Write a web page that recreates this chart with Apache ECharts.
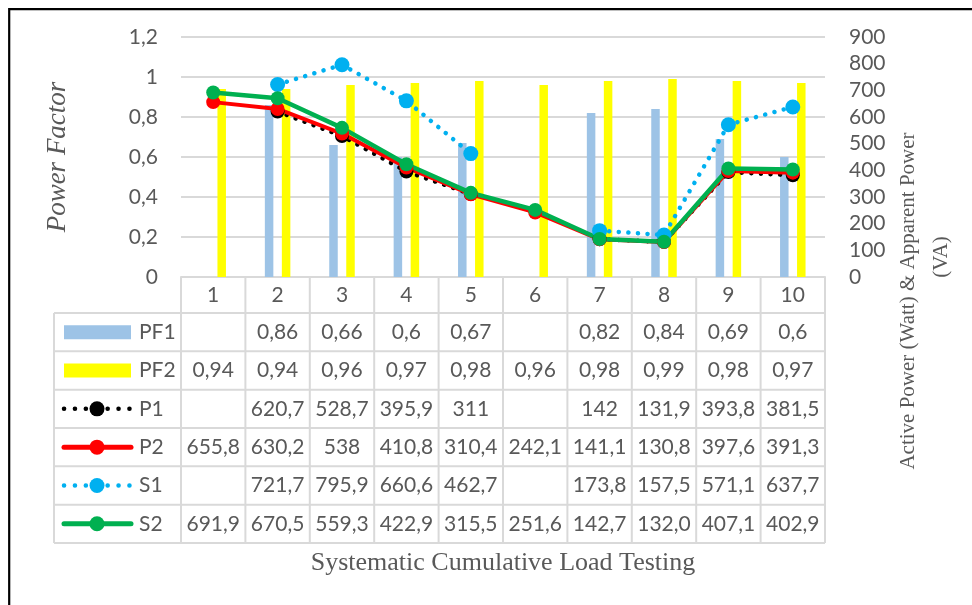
<!DOCTYPE html>
<html>
<head>
<meta charset="utf-8">
<script src="https://cdn.jsdelivr.net/npm/echarts@6/dist/echarts.min.js"></script>
<style>
  html, body { margin: 0; padding: 0; background: #ffffff; }
  #chart { width: 972px; height: 605px; }
</style>
</head>
<body>
<div id="chart"></div>
<script>
// Test steps on the horizontal axis
const categories = ['1', '2', '3', '4', '5', '6', '7', '8', '9', '10'];

// Power factor (left axis)
const pf1 = [null, 0.86, 0.66, 0.6, 0.67, null, 0.82, 0.84, 0.69, 0.6];
const pf2 = [0.94, 0.94, 0.96, 0.97, 0.98, 0.96, 0.98, 0.99, 0.98, 0.97];

// Active power (W) and apparent power (VA) (right axis)
const p1 = [null, 620.7, 528.7, 395.9, 311, null, 142, 131.9, 393.8, 381.5];
const p2 = [655.8, 630.2, 538, 410.8, 310.4, 242.1, 141.1, 130.8, 397.6, 391.3];
const s1 = [null, 721.7, 795.9, 660.6, 462.7, null, 173.8, 157.5, 571.1, 637.7];
const s2 = [691.9, 670.5, 559.3, 422.9, 315.5, 251.6, 142.7, 132.0, 407.1, 402.9];

// Tick labels
const leftTicks = ['0', '0,2', '0,4', '0,6', '0,8', '1', '1,2'];
const rightTicks = ['0', '100', '200', '300', '400', '500', '600', '700', '800', '900'];

const GRAY_TEXT = '#595959';
const GRID_LINE = '#D9D9D9';
const SANS = 'Lato';
const SERIF = '"Liberation Serif", "Times New Roman", serif';
const LABEL_SIZE = 21;

const chart = echarts.init(document.getElementById('chart'), null, { renderer: 'canvas' });

const dots = (w, period) => ({ width: w, type: [0.1, period], cap: 'round' });

const option = {
  animation: false,
  backgroundColor: '#ffffff',
  grid: { left: 181, right: 147, top: 37, bottom: 328, containLabel: false },
  xAxis: {
    type: 'category',
    data: categories,
    axisLine: { show: true, lineStyle: { color: GRID_LINE, width: 2 } },
    axisTick: { show: false },
    axisLabel: { color: GRAY_TEXT, fontFamily: SANS, fontSize: LABEL_SIZE, margin: 18, verticalAlign: 'middle' },
    splitLine: { show: false }
  },
  yAxis: [
    {
      type: 'value', min: 0, max: 1.2, interval: 0.2,
      axisLine: { show: false }, axisTick: { show: false },
      axisLabel: {
        color: GRAY_TEXT, fontFamily: SANS, fontSize: LABEL_SIZE, margin: 23,
        formatter: v => leftTicks[Math.round(v / 0.2)]
      },
      splitLine: { show: true, lineStyle: { color: GRID_LINE, width: 2 } }
    },
    {
      type: 'value', min: 0, max: 900, interval: 100,
      axisLine: { show: false }, axisTick: { show: false },
      axisLabel: {
        color: GRAY_TEXT, fontFamily: SANS, fontSize: LABEL_SIZE, margin: 24,
        formatter: v => rightTicks[Math.round(v / 100)]
      },
      splitLine: { show: false }
    }
  ],
  series: [
    { name: 'PF1', type: 'bar', yAxisIndex: 0, data: pf1, barWidth: 8.5, barGap: '100%', itemStyle: { color: '#9DC3E6' } },
    { name: 'PF2', type: 'bar', yAxisIndex: 0, data: pf2, barWidth: 8.5, barGap: '100%', itemStyle: { color: '#FFFF00' } },
    {
      name: 'P1', type: 'line', yAxisIndex: 1, data: p1, connectNulls: false,
      symbol: 'circle', symbolSize: 14, itemStyle: { color: '#000000' },
      lineStyle: Object.assign({ color: '#000000' }, dots(4.5, 9.5))
    },
    {
      name: 'P2', type: 'line', yAxisIndex: 1, data: p2,
      symbol: 'circle', symbolSize: 14, itemStyle: { color: '#FF0000' },
      lineStyle: { color: '#FF0000', width: 4 }
    },
    {
      name: 'S1', type: 'line', yAxisIndex: 1, data: s1, connectNulls: false,
      symbol: 'circle', symbolSize: 15, itemStyle: { color: '#00B0F0' },
      lineStyle: Object.assign({ color: '#00B0F0' }, dots(4.5, 9.5))
    },
    {
      name: 'S2', type: 'line', yAxisIndex: 1, data: s2,
      symbol: 'circle', symbolSize: 14, itemStyle: { color: '#00B050' },
      lineStyle: { color: '#00B050', width: 4.5 }
    }
  ]
};

chart.setOption(option);

// ---- data table under the plot, laid out from the category axis ----
const rows = [
  { name: 'PF1', values: pf1, key: 'bar', color: '#9DC3E6' },
  { name: 'PF2', values: pf2, key: 'bar', color: '#FFFF00' },
  { name: 'P1', values: p1, key: 'dots', color: '#000000' },
  { name: 'P2', values: p2, key: 'solid', color: '#FF0000' },
  { name: 'S1', values: s1, key: 'dots', color: '#00B0F0' },
  { name: 'S2', values: s2, key: 'solid', color: '#00B050', fixed: 1 }
];

function fmt(v, fixed) {
  if (v === null || v === undefined) return '';
  const s = fixed ? v.toFixed(fixed) : String(v);
  return s.replace('.', ',');
}

function buildTable() {
  const c0 = chart.convertToPixel({ xAxisIndex: 0 }, 0);
  const c1 = chart.convertToPixel({ xAxisIndex: 0 }, 1);
  const band = c1 - c0;
  const xStart = c0 - band / 2;
  const xEnd = chart.convertToPixel({ xAxisIndex: 0 }, categories.length - 1) + band / 2;
  const yAxisLine = chart.convertToPixel({ yAxisIndex: 0 }, 0);
  const headerH = 36;
  const rowH = 38.33;
  const tableTop = yAxisLine + headerH;
  const tableBottom = tableTop + rows.length * rowH;
  const keyLeft = 54;
  const els = [];
  const lineStyle = { stroke: GRID_LINE, lineWidth: 2 };
  const font = LABEL_SIZE + 'px ' + SANS;

  // outer frame of the chart area
  els.push({ type: 'rect', silent: true, shape: { x: 9.2, y: 9.2, width: 1000, height: 1000 },
             style: { fill: 'none', stroke: '#000000', lineWidth: 2.2 } });

  // vertical rules at category boundaries
  for (let i = 0; i <= categories.length; i++) {
    const x = xStart + i * band;
    els.push({ type: 'line', silent: true, shape: { x1: x, y1: yAxisLine, x2: x, y2: tableBottom }, style: lineStyle });
  }
  els.push({ type: 'line', silent: true, shape: { x1: keyLeft, y1: tableTop, x2: keyLeft, y2: tableBottom }, style: lineStyle });
  // horizontal rules
  for (let r = 0; r <= rows.length; r++) {
    const y = tableTop + r * rowH;
    els.push({ type: 'line', silent: true, shape: { x1: keyLeft, y1: y, x2: xEnd, y2: y }, style: lineStyle });
  }

  rows.forEach((row, r) => {
    const cy = tableTop + r * rowH + rowH / 2;
    // legend key
    if (row.key === 'bar') {
      els.push({ type: 'rect', silent: true, shape: { x: 64, y: cy - 7, width: 67, height: 14 }, style: { fill: row.color } });
    } else if (row.key === 'dots') {
      els.push({ type: 'line', silent: true, shape: { x1: 64, y1: cy, x2: 130, y2: cy },
                 style: { stroke: row.color, lineWidth: 4.5, lineCap: 'round', lineDash: [0.1, 10.8] } });
      els.push({ type: 'circle', silent: true, shape: { cx: 97, cy: cy, r: 7.5 }, style: { fill: row.color } });
    } else {
      els.push({ type: 'line', silent: true, shape: { x1: 64, y1: cy, x2: 131, y2: cy },
                 style: { stroke: row.color, lineWidth: 5, lineCap: 'round' } });
      els.push({ type: 'circle', silent: true, shape: { cx: 97, cy: cy, r: 7.5 }, style: { fill: row.color } });
    }
    els.push({ type: 'text', silent: true, x: 139, y: cy,
               style: { text: row.name, fill: GRAY_TEXT, font: font, align: 'left', verticalAlign: 'middle' } });
    // values
    row.values.forEach((v, i) => {
      els.push({ type: 'text', silent: true, x: chart.convertToPixel({ xAxisIndex: 0 }, i), y: cy,
                 style: { text: fmt(v, row.fixed), fill: GRAY_TEXT, font: font, align: 'center', verticalAlign: 'middle' } });
    });
  });

  // axis titles
  els.push({ type: 'text', silent: true, x: 58, y: 157, rotation: Math.PI / 2,
             style: { text: 'Power Factor', fill: GRAY_TEXT, font: 'italic 27px ' + SERIF, align: 'center', verticalAlign: 'middle' } });
  els.push({ type: 'text', silent: true, x: 908, y: 301, rotation: Math.PI / 2,
             style: { text: 'Active Power (Watt) & Apparent Power', fill: GRAY_TEXT, font: '21px ' + SERIF, align: 'center', verticalAlign: 'middle' } });
  els.push({ type: 'text', silent: true, x: 941, y: 257, rotation: Math.PI / 2,
             style: { text: '(VA)', fill: GRAY_TEXT, font: '21px ' + SERIF, align: 'center', verticalAlign: 'middle' } });
  els.push({ type: 'text', silent: true, x: (xStart + xEnd) / 2, y: 563,
             style: { text: 'Systematic Cumulative Load Testing', fill: GRAY_TEXT, font: '26px ' + SERIF, align: 'center', verticalAlign: 'middle' } });

  chart.setOption({ graphic: { elements: els } });
}

buildTable();
</script>
</body>
</html>
